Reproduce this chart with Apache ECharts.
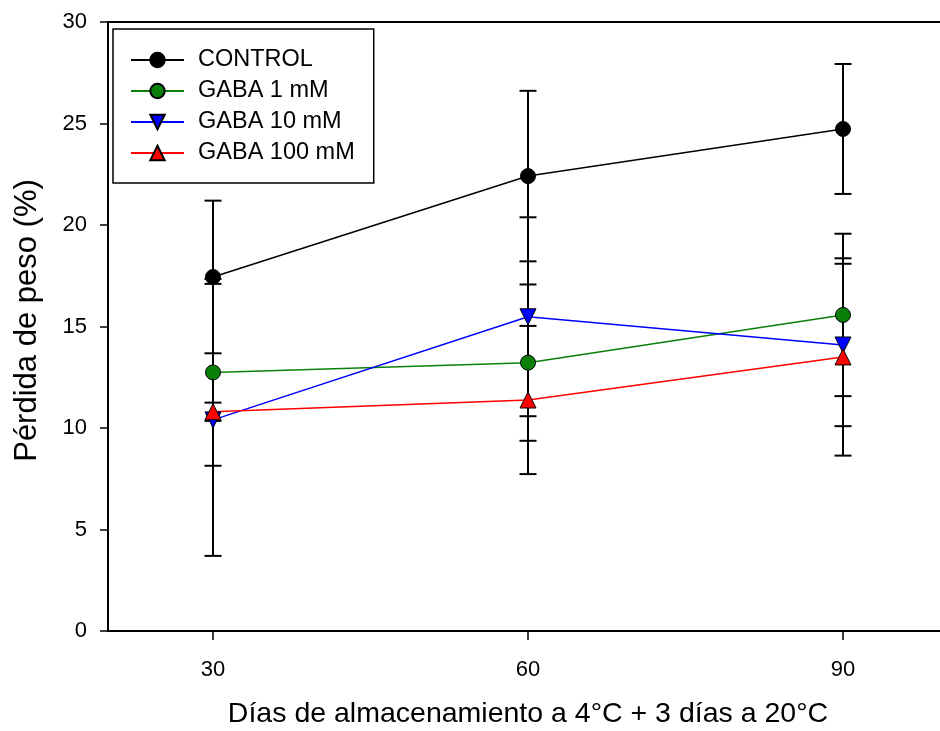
<!DOCTYPE html>
<html lang="es">
<head>
    <meta charset="UTF-8">
    <title>Pérdida de peso</title>
    <script src="https://cdn.jsdelivr.net/npm/echarts@6/dist/echarts.min.js"></script>
    <style>
        html, body { margin: 0; padding: 0; background: #fff; }
        #chart { width: 940px; height: 731px; }
    </style>
</head>
<body>
<div id="chart"></div>
<script type="text/javascript">
    // días de almacenamiento
    var dias = [30, 60, 90];
    var xTicks = [30, 60, 90];

    // pérdida de peso media (%)
    var control = [17.44, 22.41, 24.73];
    var gaba1 = [12.74, 13.22, 15.57];
    var gaba10 = [10.4, 15.48, 14.09];
    var gaba100 = [10.8, 11.38, 13.5];

    // desviación (barras de error)
    var errControl = [3.76, 4.2, 3.2];
    var errGaba1 = [4.6, 3.85, 4.0];
    var errGaba10 = [6.7, 4.9, 4.0];
    var errGaba100 = [0.45, 3.65, 4.86];

    var font = 'Liberation Sans, Arial, sans-serif';

    function pares(vals) {
        var out = [];
        for (var i = 0; i < dias.length; i++) {
            out.push([dias[i], vals[i]]);
        }
        return out;
    }

    function barras(vals, errs) {
        var out = [];
        for (var i = 0; i < dias.length; i++) {
            out.push([dias[i], vals[i] - errs[i], vals[i] + errs[i]]);
        }
        return out;
    }

    function dibujarError(params, api) {
        var x = api.value(0);
        var lo = api.coord([x, api.value(1)]);
        var hi = api.coord([x, api.value(2)]);
        var w = 8.5;
        var style = { stroke: '#000', lineWidth: 2 };
        return {
            type: 'group',
            children: [
                { type: 'line', shape: { x1: lo[0], y1: lo[1], x2: hi[0], y2: hi[1] }, style: style },
                { type: 'line', shape: { x1: hi[0] - w, y1: hi[1], x2: hi[0] + w, y2: hi[1] }, style: style },
                { type: 'line', shape: { x1: lo[0] - w, y1: lo[1], x2: lo[0] + w, y2: lo[1] }, style: style }
            ]
        };
    }

    function serieError(vals, errs) {
        return {
            type: 'custom',
            renderItem: dibujarError,
            data: barras(vals, errs),
            encode: { x: 0, y: [1, 2] },
            z: 1,
            silent: true
        };
    }

    function serieLinea(name, vals, color, symbol, rotate, size) {
        return {
            name: name,
            type: 'line',
            data: pares(vals),
            symbol: symbol,
            symbolSize: size,
            symbolRotate: rotate,
            showAllSymbol: true,
            lineStyle: { color: color, width: 1.5 },
            itemStyle: { color: color, borderColor: '#000', borderWidth: 1 },
            z: 3
        };
    }

    var myChart = echarts.init(document.getElementById('chart'));
    var option = {
        animation: false,
        textStyle: { fontFamily: font, color: '#000' },
        grid: {
            left: 108,
            top: 22,
            bottom: 100,
            width: 840,
            outerBoundsMode: 'none',
            containLabel: false,
            show: true,
            borderColor: '#000',
            borderWidth: 2
        },
        legend: {
            orient: 'vertical',
            left: 113,
            top: 29,
            padding: [19, 19, 18, 17],
            itemWidth: 53,
            itemHeight: 18,
            itemGap: 7,
            borderColor: '#000',
            borderWidth: 1.5,
            textStyle: { fontFamily: font, fontSize: 23.5, color: '#000', padding: [0, 0, 0, 9] },
            data: ['CONTROL', 'GABA 1 mM', 'GABA 10 mM', 'GABA 100 mM']
        },
        xAxis: {
            type: 'value',
            min: 20,
            max: 100,
            name: 'Días de almacenamiento a 4°C + 3 días a 20°C',
            nameLocation: 'middle',
            nameGap: 69,
            nameTextStyle: { fontFamily: font, fontSize: 28.5, color: '#000' },
            axisLine: { lineStyle: { color: '#000', width: 2 } },
            axisTick: { show: true, length: 9, customValues: xTicks, lineStyle: { color: '#000', width: 1.5 } },
            axisLabel: { customValues: xTicks, margin: 28, fontSize: 22, color: '#000', fontFamily: font },
            splitLine: { show: false }
        },
        yAxis: {
            type: 'value',
            min: 0,
            max: 30,
            interval: 5,
            name: 'Pérdida de peso (%)',
            nameLocation: 'middle',
            nameGap: 65,
            nameTextStyle: { fontFamily: font, fontSize: 31, color: '#000', padding: [0, 0, 0, 12] },
            axisLine: { show: true, lineStyle: { color: '#000', width: 2 } },
            axisTick: { show: true, length: 8, lineStyle: { color: '#000', width: 1.5 } },
            axisLabel: { margin: 21, fontSize: 22, color: '#000', fontFamily: font },
            splitLine: { show: false }
        },
        series: [
            serieError(control, errControl),
            serieError(gaba1, errGaba1),
            serieError(gaba10, errGaba10),
            serieError(gaba100, errGaba100),
            serieLinea('CONTROL', control, '#000000', 'circle', 0, 15),
            serieLinea('GABA 1 mM', gaba1, '#0a800a', 'circle', 0, 15),
            serieLinea('GABA 10 mM', gaba10, '#0000ff', 'triangle', 180, 16),
            serieLinea('GABA 100 mM', gaba100, '#ff0000', 'triangle', 0, 16)
        ]
    };
    myChart.setOption(option);
</script>
</body>
</html>
